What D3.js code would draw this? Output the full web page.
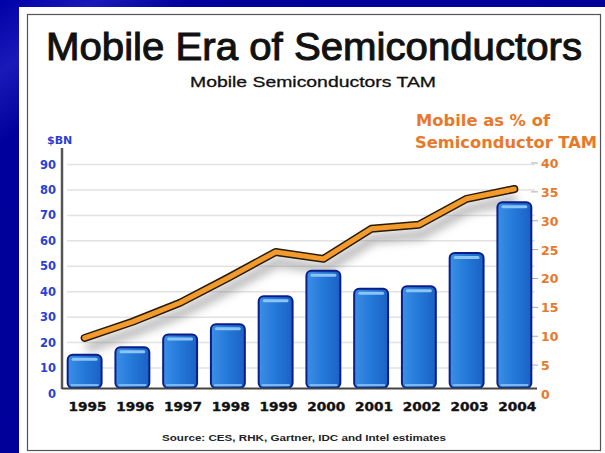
<!DOCTYPE html>
<html><head><meta charset="utf-8">
<script src="https://cdn.jsdelivr.net/npm/d3@7"></script>
<style>body{margin:0;padding:0;background:#00009c;overflow:hidden}</style>
</head><body>
<svg id="c" width="605" height="453"></svg>
<script>
const years = ["1995","1996","1997","1998","1999","2000","2001","2002","2003","2004"];
const tamBn = [15, 18, 23, 27, 38, 48, 41, 42, 55, 75];
const mobilePct = [9.7, 12.5, 15.8, 20.1, 24.6, 23.4, 28.6, 29.3, 33.8, 35.5];
const leftTicks = [0,10,20,30,40,50,60,70,80,90];
const rightTicks = [0,5,10,15,20,25,30,35,40];

const svg = d3.select("#c");
const defs = svg.append("defs");

// background
const bg = defs.append("linearGradient").attr("id","bg").attr("x1","0").attr("y1","0").attr("x2","1").attr("y2","1");
bg.append("stop").attr("offset","0").attr("stop-color","#0000a8");
bg.append("stop").attr("offset","0.08").attr("stop-color","#1a1ab8");
bg.append("stop").attr("offset","0.16").attr("stop-color","#00009c");
bg.append("stop").attr("offset","1").attr("stop-color","#000096");
svg.append("rect").attr("width",605).attr("height",453).attr("fill","url(#bg)");

// white panel
svg.append("rect").attr("x",19).attr("y",7).attr("width",590).attr("height",450).attr("fill","#ffffff");
svg.append("rect").attr("x",27.5).attr("y",14.5).attr("width",573).attr("height",436)
  .attr("fill","none").attr("stroke","#555").attr("stroke-width",1.2);

// gradients for bars
const bgr = defs.append("linearGradient").attr("id","bar").attr("x1","0").attr("x2","1").attr("y1","0").attr("y2","0");
bgr.append("stop").attr("offset","0").attr("stop-color","#3a8fe6");
bgr.append("stop").attr("offset","0.5").attr("stop-color","#2478d8");
bgr.append("stop").attr("offset","1").attr("stop-color","#1a62c4");

const blur = defs.append("filter").attr("id","sh").attr("x","-20%").attr("y","-50%").attr("width","140%").attr("height","200%");
blur.append("feGaussianBlur").attr("stdDeviation",5);

const x = d3.scaleBand().domain(years).range([61, 538]).paddingInner(0.29).paddingOuter(0.14);
const yL = d3.scaleLinear().domain([0,90]).range([393,164]);
const yR = d3.scaleLinear().domain([0,40]).range([394,163]);

// gridlines
svg.append("g").selectAll("line").data(leftTicks.filter(d=>d>0)).join("line")
  .attr("x1",67).attr("x2",535).attr("y1",d=>yL(d)+0.5).attr("y2",d=>yL(d)+0.5)
  .attr("stroke","#e2e2e2").attr("stroke-width",1.5);

// left axis
const gL = svg.append("g").attr("transform","translate(62,0)")
  .call(d3.axisLeft(yL).tickValues(leftTicks).tickSize(0).tickPadding(6));
gL.select(".domain").remove();
gL.selectAll("text").attr("fill","#2a3fd6").attr("font-family","DejaVu Sans, Verdana, sans-serif")
  .attr("font-weight","bold").attr("font-size",11.5).attr("dy","0.35em");
svg.append("line").attr("x1",62).attr("x2",62).attr("y1",148).attr("y2",389).attr("stroke","#555").attr("stroke-width",2.5);

// right axis
const gR = svg.append("g").attr("transform","translate(537,0)")
  .call(d3.axisRight(yR).tickValues(rightTicks).tickSize(0).tickPadding(4));
gR.select(".domain").remove();
gR.selectAll("text").attr("fill","#e8782a").attr("font-family","DejaVu Sans, Verdana, sans-serif")
  .attr("font-weight","bold").attr("font-size",12.5).attr("dy","0.35em");
svg.append("g").selectAll("line").data(rightTicks.filter(d=>d>0)).join("line")
  .attr("x1",531).attr("x2",538).attr("y1",d=>yR(d)).attr("y2",d=>yR(d)).attr("stroke","#aaa");

// line shadow
const line = d3.line().x((d,i)=>x(years[i])+x.bandwidth()/2).y(d=>yR(d));
svg.append("path").datum(mobilePct).attr("d",line).attr("fill","none")
  .attr("stroke","#777").attr("stroke-width",9).attr("opacity",0.55)
  .attr("transform","translate(2,10)").attr("filter","url(#sh)");

// bars
const bars = svg.append("g");
bars.selectAll("rect.b").data(tamBn).join("rect").attr("class","b")
  .attr("x",(d,i)=>x(years[i])).attr("y",d=>yL(d))
  .attr("width",x.bandwidth()).attr("height",d=>388-yL(d))
  .attr("rx",5).attr("fill","url(#bar)").attr("stroke","#0b1d8a").attr("stroke-width",2);
bars.selectAll("rect.h").data(tamBn).join("rect").attr("class","h")
  .attr("x",(d,i)=>x(years[i])+4).attr("y",d=>yL(d)+3)
  .attr("width",x.bandwidth()-8).attr("height",3).attr("rx",1.5).attr("fill","#8cc4f4");
bars.selectAll("rect.f").data(tamBn).join("rect").attr("class","f")
  .attr("x",(d,i)=>x(years[i])+3).attr("y",384)
  .attr("width",x.bandwidth()-6).attr("height",2).attr("fill","#7ab8f0");

// baseline
svg.append("line").attr("x1",62).attr("x2",537).attr("y1",388.5).attr("y2",388.5).attr("stroke","#444").attr("stroke-width",2);

// line
svg.append("path").datum(mobilePct).attr("d",line).attr("fill","none")
  .attr("stroke","#2a1a08").attr("stroke-width",8).attr("stroke-linejoin","round").attr("stroke-linecap","round");
svg.append("path").datum(mobilePct).attr("d",line).attr("fill","none")
  .attr("stroke","#f29a2a").attr("stroke-width",5).attr("stroke-linejoin","round").attr("stroke-linecap","round");

// x labels
svg.append("g").selectAll("text").data(years).join("text")
  .attr("x",d=>x(d)+x.bandwidth()/2+3).attr("y",411).attr("text-anchor","middle")
  .attr("font-family","DejaVu Sans, Verdana, sans-serif").attr("font-weight","bold").attr("font-size",13)
  .attr("fill","#111").attr("stroke","#111").attr("stroke-width",0.4)
  .attr("textLength",38).attr("lengthAdjust","spacingAndGlyphs").text(d=>d);

// titles
svg.append("text").attr("x",314).attr("y",60).attr("text-anchor","middle")
  .attr("font-family","Liberation Sans, Arial, sans-serif").attr("font-size",38).attr("fill","#111")
  .attr("stroke","#111").attr("stroke-width",1)
  .attr("textLength",536).attr("lengthAdjust","spacingAndGlyphs").text("Mobile Era of Semiconductors");
svg.append("text").attr("x",313).attr("y",87).attr("text-anchor","middle")
  .attr("font-family","Liberation Sans, Arial, sans-serif").attr("font-size",15).attr("fill","#111")
  .attr("stroke","#111").attr("stroke-width",0.3)
  .attr("textLength",246).attr("lengthAdjust","spacingAndGlyphs").text("Mobile Semiconductors TAM");
svg.append("text").attr("x",47).attr("y",144)
  .attr("font-family","DejaVu Sans, Verdana, sans-serif").attr("font-weight","bold").attr("font-size",11)
  .attr("fill","#2a3fd6").text("$BN");
svg.append("text").attr("x",416).attr("y",126)
  .attr("font-family","DejaVu Sans, Verdana, sans-serif").attr("font-weight","bold").attr("font-size",16)
  .attr("fill","#e8782a").attr("textLength",134).attr("lengthAdjust","spacingAndGlyphs").text("Mobile as % of");
svg.append("text").attr("x",415).attr("y",148)
  .attr("font-family","DejaVu Sans, Verdana, sans-serif").attr("font-weight","bold").attr("font-size",16)
  .attr("fill","#e8782a").attr("textLength",182).attr("lengthAdjust","spacingAndGlyphs").text("Semiconductor TAM");
svg.append("text").attr("x",304).attr("y",441).attr("text-anchor","middle")
  .attr("font-family","Liberation Sans, Arial, sans-serif").attr("font-weight","bold").attr("font-size",9.5)
  .attr("fill","#222").attr("textLength",284).attr("lengthAdjust","spacingAndGlyphs")
  .text("Source: CES, RHK, Gartner, IDC and Intel estimates");
</script>
</body></html>
